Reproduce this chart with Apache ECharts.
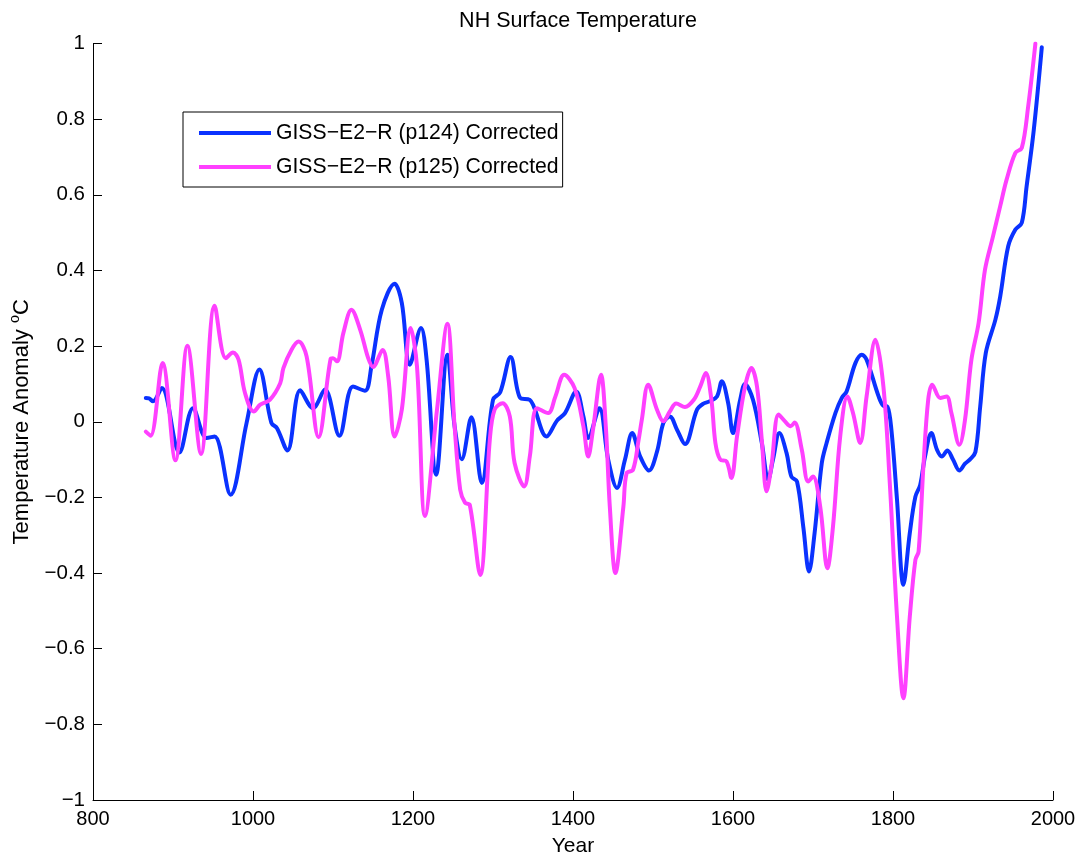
<!DOCTYPE html>
<html>
<head>
<meta charset="utf-8">
<script src="https://cdn.jsdelivr.net/npm/echarts@6/dist/echarts.min.js"></script>
<style>html,body{margin:0;padding:0;background:#fff;}#c{width:1076px;height:855px;}</style>
</head>
<body>
<div id="c"></div>
<script>
const titleText = 'NH Surface Temperature';
const xName = 'Year';
const seriesNames = ['GISS\u2212E2\u2212R (p124) Corrected', 'GISS\u2212E2\u2212R (p125) Corrected'];
const xTicks = [800, 1000, 1200, 1400, 1600, 1800, 2000];

const p124Years = [866,870,875,886,908,925,942,952,972,992,1008,1023,1030,1043,1059,1075,1090,1108,1125,1140,1148,1161,1177,1186,1196,1210,1217,1229,1243,1252,1261,1273,1286,1300,1309,1322,1334,1346,1351,1367,1380,1390,1404,1413,1419,1433,1444,1455,1465,1474,1484,1495,1505,1513,1521,1530,1540,1555,1563,1571,1580,1586,1594,1600,1609,1615,1625,1636,1644,1650,1658,1667,1673,1680,1688,1695,1702,1711,1717,1728,1736,1742,1753,1761,1767,1782,1788,1793,1798,1805,1813,1821,1828,1834,1840,1848,1855,1861,1868,1875,1883,1890,1896,1903,1909,1916,1928,1934,1944,1953,1961,1967,1976,1986];
const p124Values = [0.063,0.062,0.054,0.089,-0.081,0.036,-0.043,-0.039,-0.193,-0.003,0.138,-0.003,-0.017,-0.076,0.083,0.036,0.085,-0.037,0.093,0.082,0.146,0.296,0.365,0.314,0.151,0.248,0.164,-0.14,0.177,-0.012,-0.099,0.012,-0.162,0.058,0.078,0.171,0.063,0.058,0.04,-0.039,0.003,0.023,0.08,0.014,-0.043,0.036,-0.1,-0.175,-0.1,-0.03,-0.092,-0.129,-0.079,-0.003,0.014,-0.021,-0.059,0.032,0.048,0.054,0.067,0.107,0.049,-0.03,0.058,0.1,0.058,-0.056,-0.153,-0.1,-0.03,-0.083,-0.145,-0.158,-0.28,-0.396,-0.294,-0.109,-0.056,0.023,0.063,0.08,0.155,0.177,0.164,0.067,0.042,0.04,-0.021,-0.206,-0.431,-0.294,-0.198,-0.167,-0.092,-0.03,-0.074,-0.092,-0.076,-0.1,-0.129,-0.111,-0.1,-0.08,0.04,0.182,0.27,0.331,0.464,0.508,0.526,0.622,0.772,0.99];

const p125Years = [866,872,887,903,918,935,952,966,975,982,990,1001,1009,1021,1034,1038,1048,1057,1067,1082,1097,1100,1105,1113,1123,1134,1144,1150,1162,1169,1177,1186,1197,1205,1215,1230,1243,1252,1259,1265,1271,1284,1296,1302,1312,1321,1327,1339,1346,1355,1369,1378,1389,1402,1413,1419,1425,1435,1441,1446,1453,1463,1467,1475,1482,1486,1494,1505,1513,1521,1529,1540,1551,1559,1566,1573,1578,1584,1592,1598,1605,1615,1623,1630,1636,1642,1648,1657,1665,1672,1677,1686,1694,1700,1709,1718,1725,1734,1743,1750,1759,1767,1778,1788,1796,1805,1813,1821,1828,1832,1838,1844,1849,1859,1867,1873,1883,1890,1898,1907,1915,1925,1934,1942,1953,1961,1969,1978];
const p125Values = [-0.026,-0.037,0.155,-0.102,0.201,-0.085,0.307,0.168,0.183,0.164,0.076,0.027,0.045,0.058,0.102,0.142,0.19,0.212,0.173,-0.041,0.166,0.168,0.16,0.235,0.296,0.243,0.168,0.145,0.19,0.12,-0.039,0.032,0.248,0.146,-0.249,0.032,0.259,-0.012,-0.18,-0.214,-0.22,-0.405,-0.048,0.032,0.049,0.014,-0.109,-0.171,-0.092,0.036,0.023,0.067,0.124,0.089,-0.012,-0.092,-0.021,0.124,-0.012,-0.224,-0.40,-0.224,-0.136,-0.127,-0.048,0.005,0.098,0.032,0.001,0.027,0.048,0.039,0.058,0.093,0.129,0.058,-0.056,-0.1,-0.105,-0.149,-0.039,0.093,0.142,0.093,-0.048,-0.184,-0.118,0.019,0.001,-0.012,-0.002,-0.074,-0.158,-0.145,-0.224,-0.387,-0.277,-0.039,0.067,0.023,-0.056,0.067,0.217,0.093,-0.162,-0.515,-0.731,-0.515,-0.365,-0.343,-0.118,0.058,0.098,0.063,0.067,0.023,-0.061,0.005,0.164,0.261,0.402,0.49,0.57,0.64,0.711,0.724,0.834,1.0];

const FONT = '"Liberation Sans", Arial, Helvetica, sans-serif';
const BLUE = '#0a32ff';
const MAGENTA = '#ff40ff';

function pairs(xs, ys) { return xs.map((x, i) => [x, ys[i]]); }
function fmtY(v) {
  const r = Number(v.toFixed(1));
  if (r === 0) return '0';
  return r < 0 ? '\u2212' + String(Math.abs(r)) : String(r);
}

const chart = echarts.init(document.getElementById('c'), null, { renderer: 'canvas' });
chart.setOption({
  backgroundColor: '#ffffff',
  animation: false,
  textStyle: { fontFamily: FONT },
  title: {
    text: titleText,
    left: 573,
    top: 5,
    textAlign: 'center',
    textStyle: { fontFamily: FONT, fontSize: 21.5, fontWeight: 'normal', color: '#000' }
  },
  grid: { left: 93, right: 23, top: 43.5, bottom: 55, containLabel: false, outerBoundsMode: 'none' },
  legend: {
    orient: 'vertical',
    left: 183,
    top: 112,
    padding: [9, 4, 8, 16],
    itemGap: 10,
    itemWidth: 72,
    itemHeight: 4,
    icon: 'rect',
    backgroundColor: '#fff',
    borderColor: '#000',
    borderWidth: 1,
    borderRadius: 0,
    textStyle: { fontFamily: FONT, fontSize: 21.2, color: '#000', lineHeight: 24 },
    data: seriesNames
  },
  xAxis: {
    type: 'value',
    min: 800,
    max: 2000,
    interval: 200,
    name: xName,
    nameLocation: 'middle',
    nameGap: 36,
    nameTextStyle: { fontFamily: FONT, fontSize: 21, color: '#000' },
    axisLine: { show: true, onZero: false, lineStyle: { color: '#000', width: 1 } },
    axisTick: { show: true, inside: true, length: 9, lineStyle: { color: '#000' } },
    axisLabel: { fontFamily: FONT, fontSize: 20, color: '#000', margin: 9,
      formatter: v => xTicks.includes(v) ? String(v) : '' },
    splitLine: { show: false }
  },
  yAxis: {
    type: 'value',
    min: -1,
    max: 1,
    interval: 0.2,
    name: '{a|Temperature Anomaly }{s|o}{a|C}',
    nameLocation: 'middle',
    nameGap: 60,
    nameTextStyle: {
      fontFamily: FONT, color: '#000',
      rich: {
        a: { fontFamily: FONT, fontSize: 22, color: '#000', lineHeight: 26, verticalAlign: 'bottom' },
        s: { fontFamily: FONT, fontSize: 14.5, color: '#000', lineHeight: 26, verticalAlign: 'top' }
      }
    },
    axisLine: { show: true, onZero: false, lineStyle: { color: '#000', width: 1 } },
    axisTick: { show: true, inside: true, length: 9, lineStyle: { color: '#000' } },
    axisLabel: { fontFamily: FONT, fontSize: 20.5, color: '#000', margin: 8, formatter: fmtY },
    splitLine: { show: false }
  },
  series: [
    {
      name: seriesNames[0],
      type: 'line',
      data: pairs(p124Years, p124Values),
      smooth: 0.35,
      showSymbol: false,
      lineStyle: { color: BLUE, width: 4, join: 'round', cap: 'round' },
      itemStyle: { color: BLUE },
      z: 2
    },
    {
      name: seriesNames[1],
      type: 'line',
      data: pairs(p125Years, p125Values),
      smooth: 0.35,
      showSymbol: false,
      lineStyle: { color: MAGENTA, width: 4, join: 'round', cap: 'round' },
      itemStyle: { color: MAGENTA },
      z: 3
    }
  ]
});
</script>
</body>
</html>
